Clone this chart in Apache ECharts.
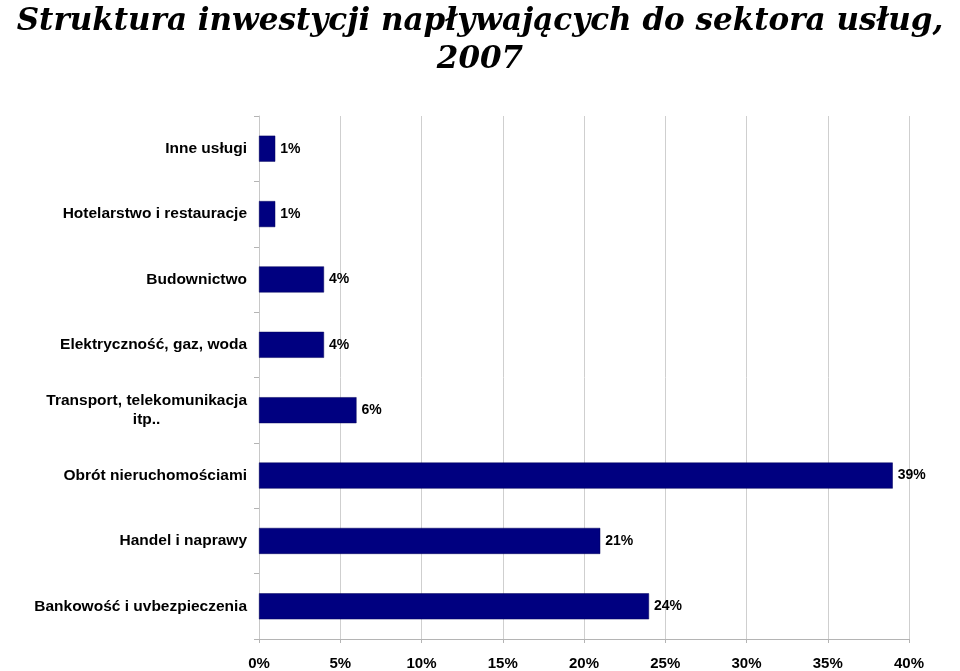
<!DOCTYPE html>
<html>
<head>
<meta charset="utf-8">
<script src="https://cdn.jsdelivr.net/npm/echarts@6/dist/echarts.min.js"></script>
<style>html,body{margin:0;padding:0;background:#fff}#c{width:960px;height:671px}</style>
</head>
<body>
<div id="c"></div>
<script>
const categories = ['Inne usługi','Hotelarstwo i restauracje','Budownictwo','Elektryczność, gaz, woda','Transport, telekomunikacja itp..','Obrót nieruchomościami','Handel i naprawy','Bankowość i uvbezpieczenia'];
const values = [1, 1, 4, 4, 6, 39, 21, 24];
const xTicks = {min: 0, max: 40, interval: 5};
const titleText = 'Struktura inwestycji napływających do sektora usług,\n2007';

const chart = echarts.init(document.getElementById('c'), null, {renderer: 'canvas'});
chart.setOption({
  backgroundColor: '#ffffff',
  animation: false,
  title: {
    text: titleText,
    left: 'center',
    top: 3,
    padding: 0,
    textStyle: {fontFamily: 'DejaVu Serif', fontStyle: 'italic', fontWeight: 'bold', fontSize: 31, lineHeight: 38, color: '#000'}
  },
  grid: {left: 259, right: 51, top: 116, bottom: 31, containLabel: false},
  xAxis: {
    type: 'value',
    min: xTicks.min, max: xTicks.max, interval: xTicks.interval,
    axisLine: {show: true, lineStyle: {color: '#b4b4b4', width: 1}},
    axisTick: {show: true, length: 4, lineStyle: {color: '#b4b4b4'}},
    splitLine: {show: true, lineStyle: {color: '#cfcfcf', width: 1}},
    axisLabel: {formatter: '{value}%', margin: 17, fontFamily: 'Liberation Sans, Arial', fontWeight: 'bold', fontSize: 15, color: '#000'}
  },
  yAxis: {
    type: 'category',
    inverse: true,
    data: categories,
    axisLine: {show: true, lineStyle: {color: '#c8c8c8', width: 1}},
    axisTick: {show: true, length: 5, lineStyle: {color: '#b4b4b4'}},
    axisLabel: {
      margin: 12, fontFamily: 'Liberation Sans, Arial', fontWeight: 'bold', fontSize: 15.5, color: '#000',
      formatter: function (v) {
        if (v.indexOf('Transport') === 0) {
          return '{c|Transport, telekomunikacja}\n{c|itp..}';
        }
        return v;
      },
      rich: {c: {align: 'center', fontFamily: 'Liberation Sans, Arial', fontWeight: 'bold', fontSize: 15.5, color: '#000', lineHeight: 19}}
    }
  },
  series: [{
    type: 'bar',
    data: values,
    barWidth: 26,
    itemStyle: {color: '#000080', borderColor: '#00005a', borderWidth: 0.5},
    label: {show: true, position: 'right', distance: 5, formatter: '{c}%', fontFamily: 'Liberation Sans, Arial', fontWeight: 'bold', fontSize: 14, color: '#000'}
  }]
});
</script>
</body>
</html>
